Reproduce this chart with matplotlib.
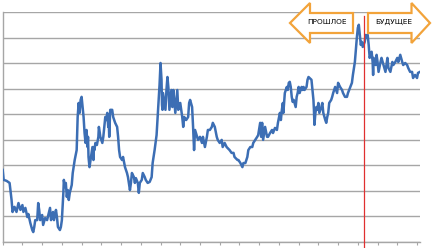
import matplotlib
matplotlib.use("Agg")
from matplotlib import pyplot as plt
from matplotlib.patches import Polygon

## series (x = days, y = price level)
days = [0, 1, 4, 7, 9, 10, 12, 14, 16, 18, 20, 21, 23, 25, 26, 28, 30, 31, 32, 33,
        35, 36, 37, 38, 40, 41, 43, 45, 46, 48, 49, 50, 51, 52, 54, 55, 56, 58, 59, 60,
        61, 61.5, 62, 63, 64, 65, 66, 67, 68, 70, 71, 73, 75, 75.5, 76, 77, 78, 79, 80, 81,
        82, 83, 84, 85, 86, 86.5, 87, 88, 91, 92, 92.5, 93, 94, 95.5, 97, 97.5, 98, 99, 101, 102,
        103, 104, 105, 106, 107, 107.5, 108, 109, 111, 112, 114, 116, 117, 118, 119, 121, 122, 124,
        126, 127, 129, 130, 131, 133, 134, 135, 137, 138, 139, 141, 142, 144, 145, 147, 149, 151,
        152, 154, 156, 157, 158, 159, 160, 161, 161.5, 162, 162.5, 165, 166, 167, 168, 169, 171, 172,
        173, 175, 177, 178, 180, 182, 183, 184, 186, 188, 189, 190, 192, 193, 194, 195, 197, 198,
        200, 202, 203, 205, 207, 208, 210, 212, 213, 215, 217, 218, 220, 222, 223, 225, 227, 230,
        232, 234, 235, 238, 239, 241, 243, 244, 246, 248, 249, 251, 253, 254, 256, 258, 259, 261,
        262, 263, 264, 266, 268, 269, 271, 273, 274, 276, 278, 279, 281, 282, 283, 284, 284.5, 286,
        287, 288, 289, 290, 291, 292, 293, 294, 295, 297, 298, 299, 300, 301, 303, 304, 305, 306,
        308, 309, 310, 313, 314, 315, 315.5, 316, 317, 318, 319, 320, 321, 323, 324, 325, 327, 328,
        329, 330, 331, 333, 334, 335, 337, 339, 340, 342, 344, 345, 347, 349, 350, 352, 354, 355,
        357, 358, 359, 360, 361, 362, 363, 364, 365, 367, 368, 369, 370, 371, 372, 374, 375, 375.5,
        376, 378, 379, 380, 381, 383, 384, 386, 388, 390, 391, 393, 395, 396, 398, 400, 401, 403,
        405, 406, 408, 410, 411, 413, 415, 416, 418, 420, 421, 423]
price = [28.1, 24.2, 23.8, 23.0, 16.3, 11.6, 13.6, 11.6, 15.1, 12.4, 14.3, 11.6, 13.2, 9.6, 10.8, 7.3, 4.5, 3.7, 5.7, 8.4,
         8.4, 15.1, 12.4, 8.4, 10.4, 6.5, 9.2, 8.4, 10.0, 13.2, 8.4, 9.6, 11.6, 8.4, 12.4, 9.6, 5.7, 4.5, 5.7, 8.4,
         15.1, 19.1, 24.2, 21.4, 23.0, 17.5, 20.2, 16.3, 19.1, 22.2, 26.9, 32.0, 35.9, 42.6, 48.9, 54.4, 50.5, 55.6, 56.8, 52.8,
         48.9, 42.6, 38.7, 43.8, 37.1, 41.1, 33.2, 29.2, 37.1, 32.0, 37.1, 35.9, 38.7, 37.9, 41.1, 45.0, 43.8, 41.1, 38.7, 41.1,
         45.0, 48.9, 47.7, 50.5, 45.0, 47.0, 41.1, 51.7, 51.7, 48.9, 46.6, 45.0, 41.1, 35.9, 33.2, 32.0, 33.2, 29.2,
         26.9, 25.3, 20.2, 23.0, 26.9, 25.3, 23.0, 24.9, 23.0, 19.1, 23.0, 24.2, 26.9, 25.3, 24.2, 23.0, 23.4, 25.3,
         30.8, 35.9, 41.8, 48.5, 55.6, 61.5, 70.1, 63.5, 53.6, 51.7, 58.3, 51.7, 59.5, 64.6, 60.3, 51.7, 59.5, 52.8,
         59.5, 50.5, 59.5, 51.7, 54.4, 48.9, 45.0, 48.9, 47.7, 48.9, 54.4, 55.6, 52.8, 45.0, 35.9, 43.8, 41.1, 39.9,
         41.1, 38.7, 41.1, 37.1, 41.1, 43.8, 43.8, 45.0, 46.6, 45.0, 41.1, 39.9, 38.7, 39.9, 37.1, 38.7, 37.1, 35.9,
         34.8, 34.8, 33.2, 32.0, 32.0, 30.8, 29.2, 30.8, 30.8, 33.2, 35.9, 37.1, 37.1, 38.7, 39.9, 41.1, 41.8, 46.6,
         41.1, 46.6, 39.9, 45.0, 41.1, 41.1, 42.6, 43.8, 42.6, 44.6, 43.8, 46.6, 50.5, 47.7, 51.7, 54.4, 50.5, 58.3,
         59.5, 60.7, 59.5, 62.3, 62.7, 60.7, 56.8, 54.8, 55.6, 52.8, 56.8, 58.3, 60.7, 58.3, 60.7, 59.5, 60.7, 59.5,
         60.7, 63.5, 64.6, 63.5, 59.5, 55.6, 51.7, 45.8, 50.5, 52.8, 51.7, 54.4, 50.5, 52.8, 54.4, 50.5, 47.7, 46.6,
         48.9, 50.5, 54.4, 55.6, 56.8, 58.3, 60.7, 58.3, 62.3, 60.7, 59.5, 58.3, 56.8, 56.8, 58.3, 60.3, 62.3, 65.4,
         70.5, 75.2, 80.0, 83.9, 85.1, 81.1, 77.2, 78.4, 76.4, 78.4, 81.1, 80.0, 81.1, 77.2, 72.1, 74.5, 70.5, 65.4,
         72.1, 69.3, 73.3, 70.5, 66.6, 70.5, 72.1, 69.3, 66.6, 72.1, 68.2, 66.6, 70.5, 69.3, 70.5, 72.1, 70.5, 73.3,
         70.5, 69.3, 70.1, 69.3, 68.2, 66.6, 66.6, 64.2, 65.4, 64.2, 66.2, 66.6]

today = 366.6
past_label = "ПРОШЛОЕ"
future_label = "БУДУЩЕЕ"

grid_col = "#A6A6A6"
line_col = "#3C6EB4"
arrow_col = "#F2A33A"

fig = plt.figure(figsize=(4.4, 2.48), dpi=100)
ax = fig.add_axes([0.0061, 0.0262, 0.9484, 0.9242])

ax.plot(days, price, color=line_col, lw=1.8, solid_joinstyle="round", zorder=3)

ax.set_xlim(0, 423)
ax.set_ylim(0, 90)
ax.set_yticks(range(0, 91, 10))
ax.set_xticks(range(0, 421, 20))
ax.tick_params(axis="y", length=0, labelleft=False)
ax.tick_params(axis="x", length=2.5, width=0.8, color=grid_col, labelbottom=False)
ax.grid(axis="y", color=grid_col, lw=1.0)
for s in ["top", "right"]:
    ax.spines[s].set_visible(False)
for s in ["left", "bottom"]:
    ax.spines[s].set_color(grid_col)
    ax.spines[s].set_linewidth(1.0)

# red "today" line, runs past the bottom axis
ax.plot([today, today], [-3, 88.6], color="#E03030", lw=0.9, clip_on=False, zorder=4)

# arrows (figure pixels -> fraction)
def px(pts):
    return [(x / 440, 1 - y / 248) for x, y in pts]

left_arrow = [(290, 23), (310, 3), (310, 13), (353, 13), (353, 33), (310, 33), (310, 43)]
right_arrow = [(368, 13), (411.5, 13), (411.5, 3), (430, 23), (411.5, 43), (411.5, 33), (368, 33)]
for pts in (left_arrow, right_arrow):
    fig.patches.append(Polygon(px(pts), closed=True, transform=fig.transFigure,
                               facecolor="white", edgecolor=arrow_col, lw=1.6, zorder=5))

fig.text(326.5 / 440, 1 - 22 / 248, past_label, ha="center", va="center", fontsize=5.3,
         family=["Liberation Sans Narrow", "DejaVu Sans"], zorder=6)
fig.text(394 / 440, 1 - 22 / 248, future_label, ha="center", va="center", fontsize=5.3,
         family=["Liberation Sans Narrow", "DejaVu Sans"], zorder=6)

fig.savefig("out.png", dpi=100)
